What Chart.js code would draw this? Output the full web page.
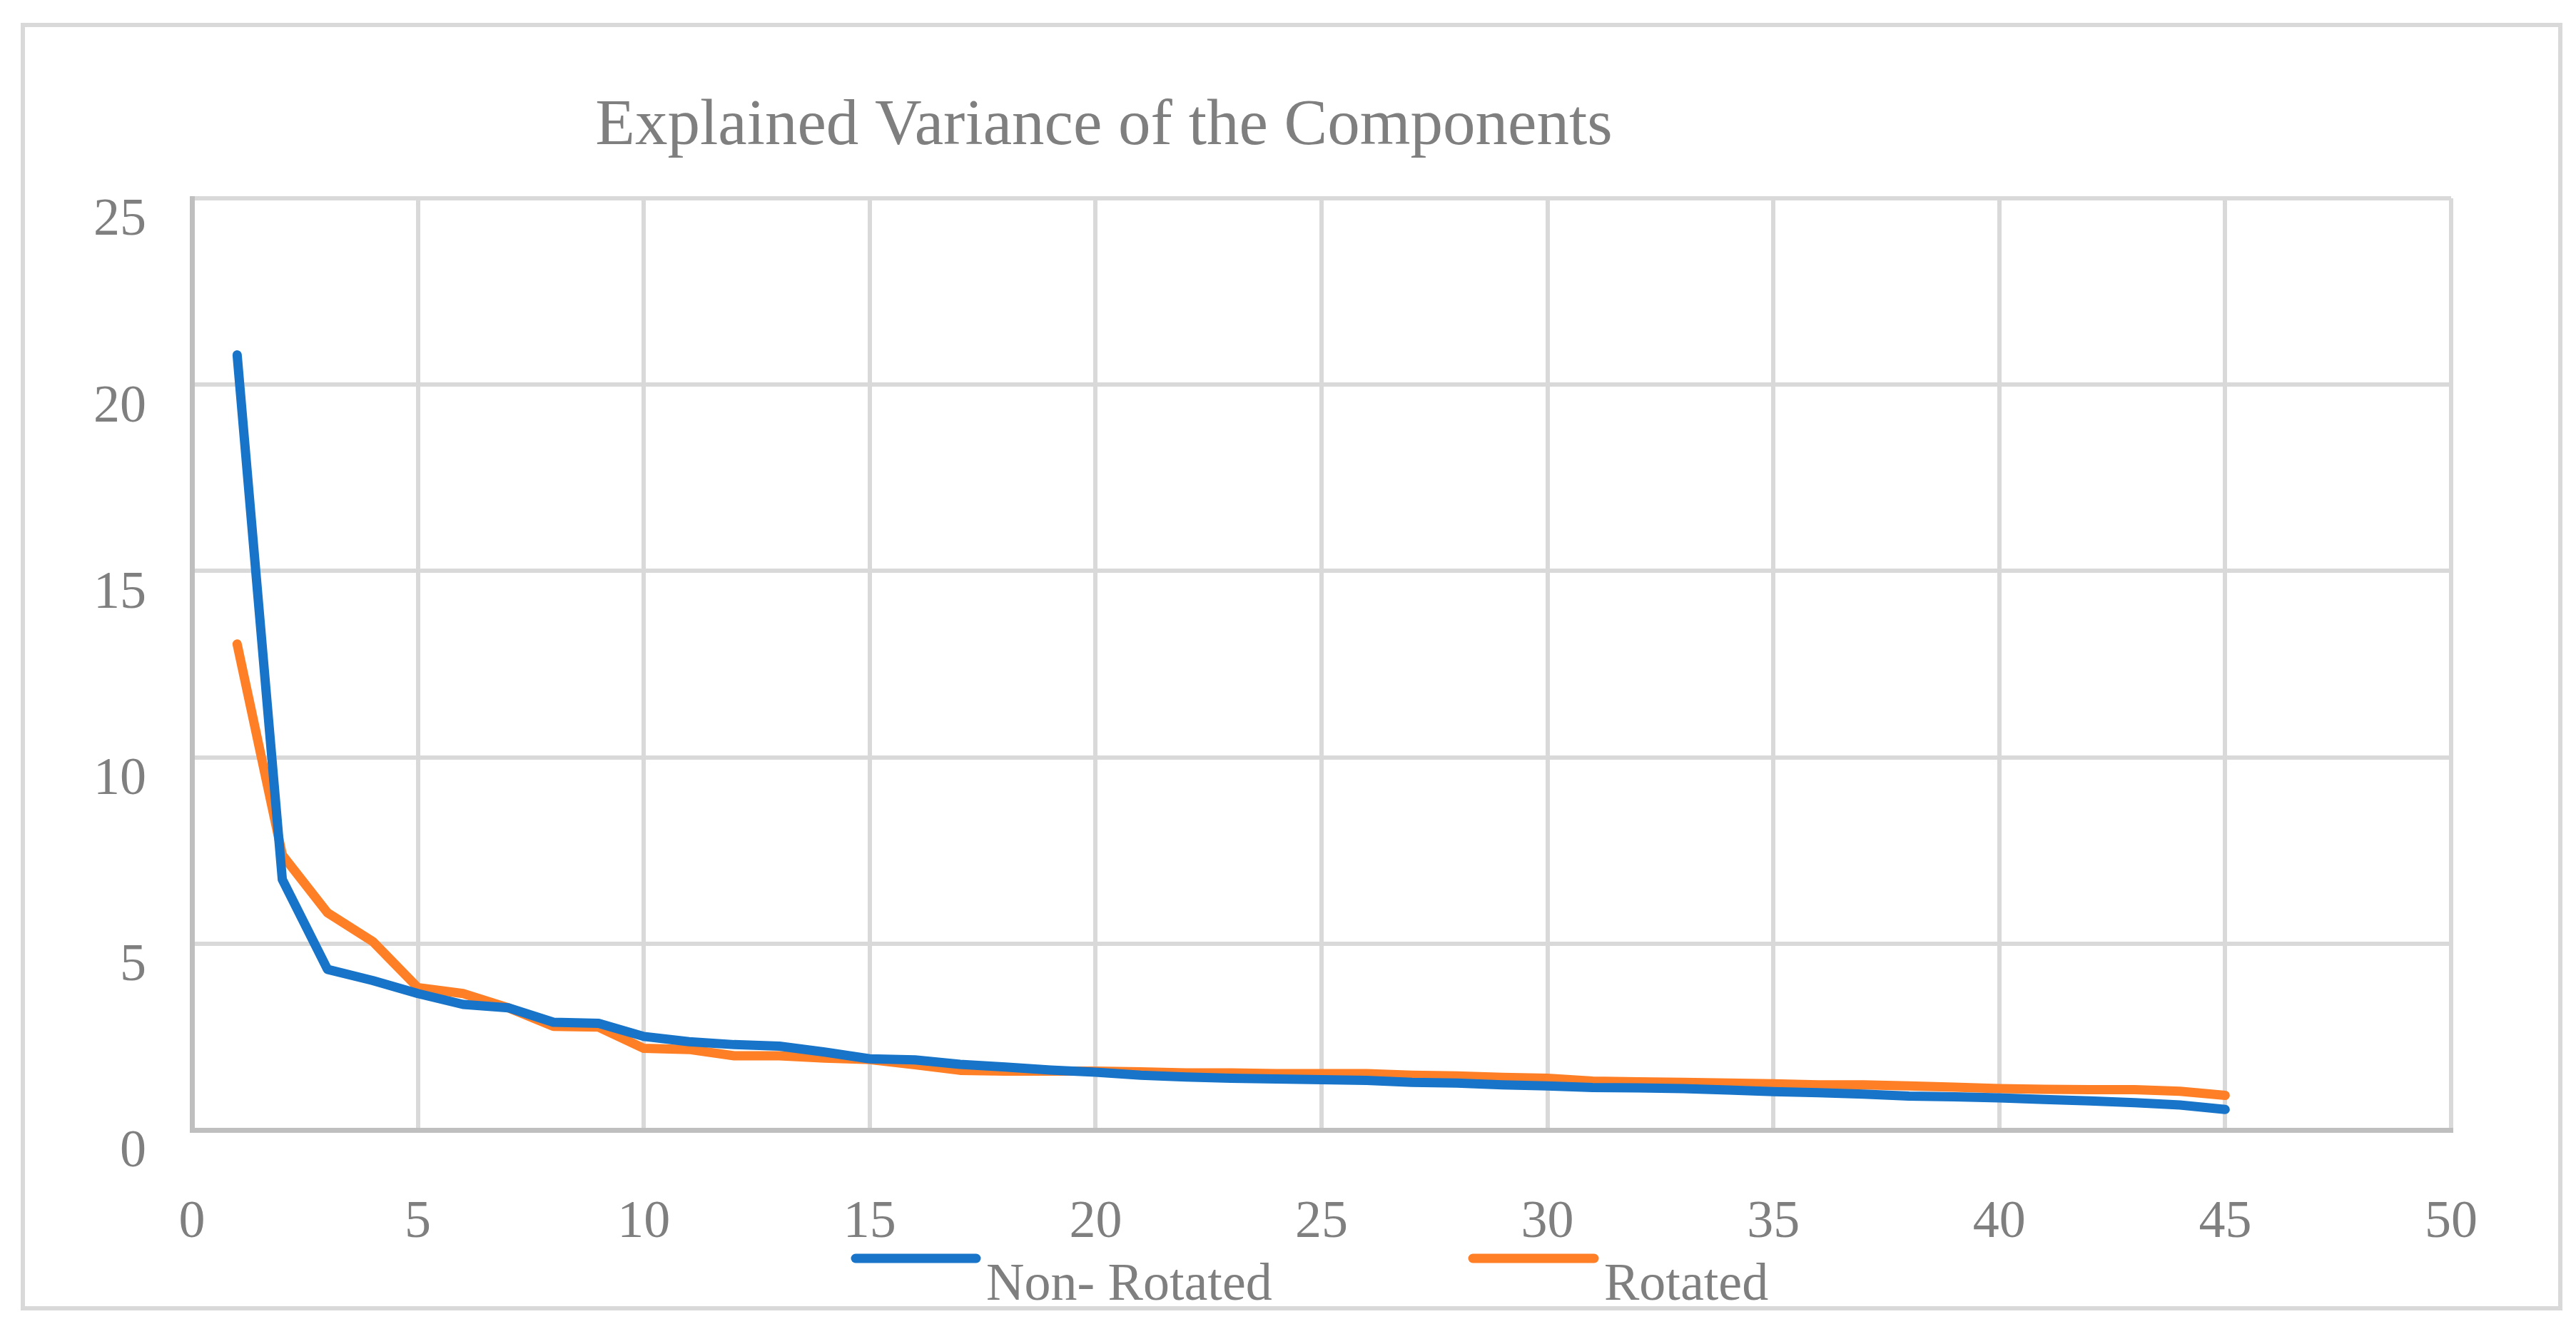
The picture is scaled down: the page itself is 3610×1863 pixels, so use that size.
<!DOCTYPE html>
<html>
<head>
<meta charset="utf-8">
<title>Explained Variance of the Components</title>
<script src="https://cdn.jsdelivr.net/npm/chart.js@4.4.1/dist/chart.umd.min.js"></script>
<style>
  html, body { margin: 0; padding: 0; background: #fff; }
  #wrap { width: 3610px; height: 1863px; }
</style>
</head>
<body>
<div id="wrap"><canvas id="myChart" width="3610" height="1863"></canvas></div>
<script>
// component numbers
var components = [1, 2, 3, 4, 5, 6, 7, 8, 9, 10, 11, 12, 13, 14, 15, 16, 17, 18, 19, 20,
  21, 22, 23, 24, 25, 26, 27, 28, 29, 30, 31, 32, 33, 34, 35, 36, 37, 38, 39, 40,
  41, 42, 43, 44, 45];

var nonRotated = [20.8, 6.72, 4.31, 4.01, 3.66, 3.37, 3.28, 2.89, 2.86, 2.51,
  2.37, 2.29, 2.25, 2.09, 1.91, 1.88, 1.76, 1.69, 1.61, 1.55,
  1.47, 1.42, 1.39, 1.37, 1.35, 1.33, 1.28, 1.26, 1.21, 1.18,
  1.14, 1.13, 1.11, 1.07, 1.03, 1.0, 0.96, 0.91, 0.89, 0.86,
  0.82, 0.78, 0.73, 0.67, 0.55];

var rotated = [13.04, 7.38, 5.83, 5.06, 3.82, 3.66, 3.28, 2.78, 2.76, 2.19,
  2.16, 1.99, 1.99, 1.93, 1.89, 1.75, 1.6, 1.58, 1.58, 1.58,
  1.56, 1.53, 1.53, 1.51, 1.51, 1.51, 1.47, 1.45, 1.41, 1.39,
  1.31, 1.29, 1.28, 1.26, 1.24, 1.21, 1.21, 1.18, 1.15, 1.11,
  1.09, 1.08, 1.08, 1.04, 0.93];

var seriesNames = ['Non- Rotated', 'Rotated'];
var xTicks = [0, 5, 10, 15, 20, 25, 30, 35, 40, 45, 50];
var yTicks = [0, 5, 10, 15, 20, 25];

var serif = "'Times New Roman', 'Liberation Serif', serif";
var gray = '#7f7f7f';

function toPoints(values) {
  return values.map(function (v, i) { return { x: components[i], y: v }; });
}

// outer frame, title and the legend below the x axis
var decor = {
  id: 'decor',
  afterDraw: function (chart) {
    var c = chart.ctx;
    c.save();
    c.strokeStyle = '#d9d9d9';
    c.lineWidth = 6;
    c.strokeRect(32, 35, 3556, 1799);

    c.fillStyle = gray;
    c.font = '91px ' + serif;
    c.textAlign = 'center';
    c.textBaseline = 'middle';
    c.fillText('Explained Variance of the Components', 1547, 178);

    var items = [{ x1: 1199, x2: 1368 }, { x1: 2064, x2: 2234 }];
    chart.data.datasets.forEach(function (ds, i) {
      var it = items[i];
      c.strokeStyle = ds.borderColor;
      c.lineWidth = 13;
      c.lineCap = 'round';
      c.beginPath();
      c.moveTo(it.x1, 1764);
      c.lineTo(it.x2, 1764);
      c.stroke();
      c.fillStyle = gray;
      c.font = '74px ' + serif;
      c.textAlign = 'left';
      c.textBaseline = 'alphabetic';
      c.fillText(ds.label, it.x2 + 14, 1822);
    });
    c.restore();
  }
};

var ctx = document.getElementById('myChart').getContext('2d');
var myChart = new Chart(ctx, {
  type: 'line',
  data: {
    datasets: [{
      label: seriesNames[0],
      data: toPoints(nonRotated),
      borderColor: '#1874C8',
      borderWidth: 13,
      borderCapStyle: 'round',
      borderJoinStyle: 'round',
      pointRadius: 0,
      tension: 0
    }, {
      label: seriesNames[1],
      data: toPoints(rotated),
      borderColor: '#FF7F27',
      borderWidth: 13,
      borderCapStyle: 'round',
      borderJoinStyle: 'round',
      pointRadius: 0,
      tension: 0
    }]
  },
  options: {
    responsive: false,
    devicePixelRatio: 1,
    animation: false,
    layout: { padding: { top: 278, right: 175, bottom: 0, left: 0 } },
    plugins: {
      legend: { display: false },
      title: { display: false },
      tooltip: { enabled: false }
    },
    scales: {
      x: {
        type: 'linear',
        min: xTicks[0],
        max: xTicks[xTicks.length - 1],
        afterBuildTicks: function (s) { s.ticks = xTicks.map(function (v) { return { value: v }; }); },
        afterFit: function (s) { s.height = 279; },
        grid: { color: '#d9d9d9', lineWidth: 6, drawTicks: false },
        border: { color: '#bfbfbf', width: 7 },
        ticks: { color: gray, font: { family: serif, size: 74 }, padding: 86, maxRotation: 0 }
      },
      y: {
        min: yTicks[0],
        max: yTicks[yTicks.length - 1],
        afterBuildTicks: function (s) { s.ticks = yTicks.map(function (v) { return { value: v }; }); },
        afterFit: function (s) { s.width = 269; },
        grid: { color: '#d9d9d9', lineWidth: 6, drawTicks: false },
        border: { color: '#bfbfbf', width: 7 },
        ticks: { color: gray, font: { family: serif, size: 74 }, padding: 64, labelOffset: 32 }
      }
    }
  },
  plugins: [decor]
});
</script>
</body>
</html>
